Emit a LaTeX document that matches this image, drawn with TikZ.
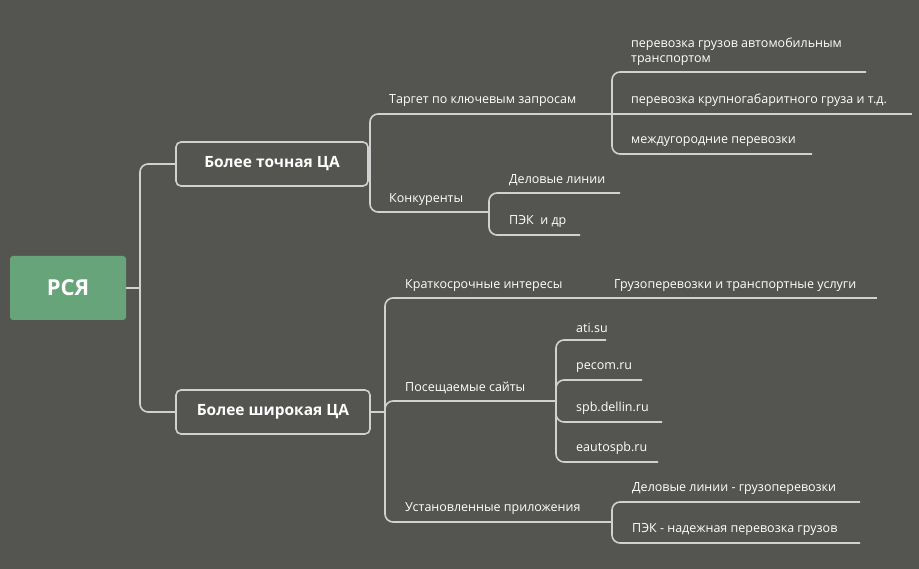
\documentclass[tikz,border=0pt]{standalone}
\usepackage{fontspec}
\setmainfont{Open Sans}
\begin{document}
\begin{tikzpicture}[x=1pt,y=-1pt,
  conn/.style={draw=black!18,line width=1.6pt,rounded corners=8pt},
  lbl/.style={anchor=south west,inner sep=0pt,text=white,font=\fontsize{12.5}{15}\selectfont},
  box/.style={draw=black!18,line width=1.6pt,rounded corners=5pt,text=white,font=\bfseries\fontsize{15.5}{18}\selectfont,minimum height=44pt,inner xsep=0pt}]
\useasboundingbox[fill={rgb,255:red,84;green,85;blue,81}] (0,0) rectangle (919,569);
\node[fill={rgb,255:red,104;green,164;blue,121},rounded corners=3pt,minimum width=116pt,minimum height=64pt,text=white,font=\bfseries\fontsize{22}{26}\selectfont] (root) at (68,288) {РСЯ};
\node[box,minimum width=192pt] (b1) at (272,164) {Более точная ЦА};
\node[box,minimum width=194pt] (b2) at (273,412) {Более широкая ЦА};
\coordinate (rj) at (140,288);
\draw[conn] (root.east) -- (rj);
\draw[conn] (rj) |- (b1.west);
\draw[conn] (rj) |- (b2.west);
% branch 1
\coordinate (j1) at (370,164);
\draw[conn] (b1.east) -- (j1);
\coordinate (t1e) at (605,114); \coordinate (t2e) at (480,212);
\node[lbl] (t1) at (389,107) {Таргет по ключевым запросам};
\node[lbl] (t2) at (389,206) {Конкуренты};
\draw[conn] (j1) |- (t1e);
\draw[conn] (j1) |- (t2e);
\coordinate (j11) at (612,114);
\draw[conn] (t1e) -- (j11);
\node[lbl,align=left,anchor=south west] (c1) at (631,66) {перевозка грузов автомобильным\\транспортом};
\node[lbl] (c2) at (631,107) {перевозка крупногабаритного груза и т.д.};
\node[lbl] (c3) at (631,147) {междугородние перевозки};
\coordinate (c1e) at (866,72); \coordinate (c2e) at (912,114); \coordinate (c3e) at (812,154);
\draw[conn] (j11) |- (c1e);
\draw[conn] (j11) -- (c2e);
\draw[conn] (j11) |- (c3e);
\coordinate (j12) at (489,212);
\draw[conn] (t2e) -- (j12);
\node[lbl] (d1) at (509,186) {Деловые линии};
\node[lbl] (d2) at (509,228) {ПЭК\ \ и др};
\coordinate (d1e) at (620,193); \coordinate (d2e) at (580,235);
\draw[conn] (j12) |- (d1e);
\draw[conn] (j12) |- (d2e);
% branch 2
\coordinate (j2) at (385,412);
\draw[conn] (b2.east) -- (j2);
\node[lbl] (s1) at (405,292) {Краткосрочные интересы};
\node[lbl] (s2) at (405,394) {Посещаемые сайты};
\node[lbl] (s3) at (405,515) {Установленные приложения};
\coordinate (s1e) at (595,298); \coordinate (s2e) at (548,401); \coordinate (s3e) at (600,522);
\draw[conn] (j2) |- (s1e);
\draw[conn] (j2) |- (s2e);
\draw[conn] (j2) |- (s3e);
\node[lbl] (g1) at (614,292) {Грузоперевозки и транспортные услуги};
\coordinate (g1e) at (877,298);
\draw[conn] (s1e) -- (g1e);
\coordinate (j22) at (556,401);
\draw[conn] (s2e) -- (j22);
\node[lbl] (w1) at (576,333) {ati.su};
\node[lbl] (w2) at (576,373) {pecom.ru};
\node[lbl] (w3) at (576,415) {spb.dellin.ru};
\node[lbl] (w4) at (576,455) {eautospb.ru};
\coordinate (w1e) at (606,340); \coordinate (w2e) at (642,380);
\coordinate (w3e) at (662,422); \coordinate (w4e) at (658,462);
\draw[conn] (j22) |- (w1e);
\draw[conn] (j22) |- (w2e);
\draw[conn] (j22) |- (w3e);
\draw[conn] (j22) |- (w4e);
\coordinate (j23) at (612,522);
\draw[conn] (s3e) -- (j23);
\node[lbl] (a1) at (632,495) {Деловые линии - грузоперевозки};
\node[lbl] (a2) at (632,536) {ПЭК - надежная перевозка грузов};
\coordinate (a1e) at (860,502); \coordinate (a2e) at (860,543);
\draw[conn] (j23) |- (a1e);
\draw[conn] (j23) |- (a2e);
\end{tikzpicture}
\end{document}
